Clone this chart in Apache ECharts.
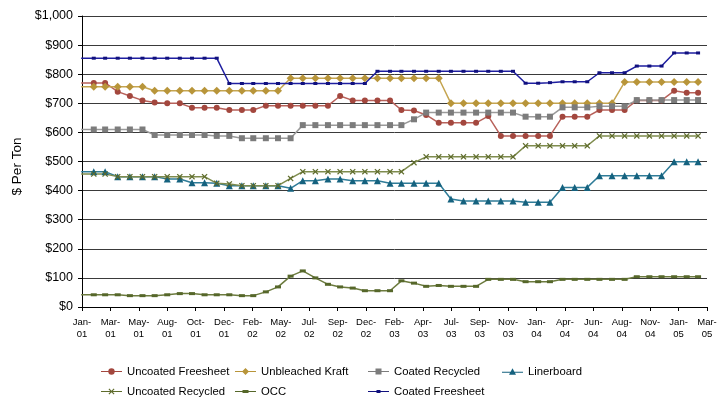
<!DOCTYPE html>
<html>
<head>
<meta charset="utf-8">
<script src="https://cdn.jsdelivr.net/npm/echarts@6/dist/echarts.min.js"></script>
<style>
  html, body { margin: 0; padding: 0; background: #fff; }
  #chart { width: 722px; height: 399px; }
</style>
</head>
<body>
<div id="chart"></div>
<script>
// Monthly price observations, Jan 2001 through Mar 2005 ($ per ton)
const months = [
  '2001-01','2001-02','2001-03','2001-04','2001-05','2001-06','2001-07','2001-08','2001-09','2001-10','2001-11','2001-12',
  '2002-01','2002-02','2002-03','2002-04','2002-05','2002-06','2002-07','2002-08','2002-09','2002-10','2002-11','2002-12',
  '2003-01','2003-02','2003-03','2003-04','2003-05','2003-06','2003-07','2003-08','2003-09','2003-10','2003-11','2003-12',
  '2004-01','2004-02','2004-03','2004-04','2004-05','2004-06','2004-07','2004-08','2004-09','2004-10','2004-11','2004-12',
  '2005-01','2005-02','2005-03'
];

const uncoatedFreesheet = [
  770,770,770,740,725,710,703,700,700,685,685,685,
  677,677,677,692,692,692,692,692,692,725,710,710,
  710,710,677,675,660,633,633,633,633,656,588,588,
  588,588,588,654,654,654,677,677,677,710,710,710,
  743,736,736
];
const unbleachedKraft = [
  757,757,757,757,757,757,743,743,743,743,743,743,
  743,743,743,743,743,786,786,786,786,786,786,786,
  786,786,786,786,786,786,700,700,700,700,700,700,
  700,700,700,700,700,700,700,700,773,773,773,773,
  773,773,773
];
const coatedRecycled = [
  610,610,610,610,610,610,591,591,591,591,591,588,
  588,580,580,580,580,580,625,625,625,625,625,625,
  625,625,625,645,668,668,668,668,668,668,668,668,
  654,654,654,686,686,686,690,690,690,711,711,711,
  711,711,711
];
const linerboard = [
  465,465,465,448,448,448,448,440,440,427,427,425,
  417,417,417,417,417,408,434,434,440,440,434,434,
  434,425,425,425,425,425,371,364,364,364,364,364,
  360,360,360,411,411,411,451,451,451,451,451,451,
  499,499,499
];
const uncoatedRecycled = [
  457,457,457,448,448,448,448,448,448,448,448,425,
  423,417,417,417,417,442,465,465,465,465,465,465,
  465,465,465,496,516,516,516,516,516,516,516,516,
  554,554,554,554,554,554,588,588,588,588,588,588,
  588,588,588
];
const occ = [
  42,42,42,42,39,39,39,42,46,46,42,42,
  42,39,39,52,69,106,124,100,78,69,65,56,
  56,56,90,82,71,74,71,71,71,95,95,95,
  87,87,87,95,95,95,95,95,95,104,104,104,
  104,104,104
];
const coatedFreesheet = [
  855,855,855,855,855,855,855,855,855,855,855,855,
  768,768,768,768,768,768,768,768,768,768,768,768,
  810,810,810,810,810,810,810,810,810,810,810,810,
  769,769,771,774,774,774,805,805,805,828,828,828,
  873,873,873
];

// Date axis: ticks every 70 days starting from 3 Jan 2001
const axisStart = Date.UTC(2001, 0, 3);
const tickStep = 70;
const xTickLabels = [
  'Jan-01','Mar-01','May-01','Aug-01','Oct-01','Dec-01','Feb-02','May-02','Jul-02','Sep-02','Dec-02','Feb-03',
  'Apr-03','Jul-03','Sep-03','Nov-03','Jan-04','Apr-04','Jun-04','Aug-04','Nov-04','Jan-05','Mar-05'
];
const yTickLabels = ['$0','$100','$200','$300','$400','$500','$600','$700','$800','$900','$1,000'];

function dayOffset(ym) {
  const [y, m] = ym.split('-').map(Number);
  return Math.round((Date.UTC(y, m - 1, 1) - axisStart) / 86400000);
}
const xDays = months.map(dayOffset);
const pairs = vals => vals.map((v, i) => [xDays[i], v]);

const FONT = '"Liberation Sans", Arial, sans-serif';
const xMark = 'path://M0,1.4L1.4,0L5,3.6L8.6,0L10,1.4L6.4,5L10,8.6L8.6,10L5,6.4L1.4,10L0,8.6L3.6,5Z';

// Legend icons: a short line with the series marker in the middle (21 px wide)
const icons = {
  circle:   { h: 6.4, path: 'path://M0,2.7H21V3.7H0Z M7.3,3.2A3.2,3.2,0,1,1,13.7,3.2A3.2,3.2,0,1,1,7.3,3.2Z' },
  diamond:  { h: 7,   path: 'path://M0,3H21V4H0Z M10.5,0L14,3.5L10.5,7L7,3.5Z' },
  square:   { h: 6,   path: 'path://M0,2.5H21V3.5H0Z M7.5,0H13.5V6H7.5Z' },
  triangle: { h: 6.5, path: 'path://M0,3.6H21V4.6H0Z M10.5,0L14,6.5H7Z' },
  cross:    { h: 6,   path: 'path://M0,2.5H21V3.5H0Z M7.5,0.8L8.3,0L10.5,2.2L12.7,0L13.5,0.8L11.3,3L13.5,5.2L12.7,6L10.5,3.8L8.3,6L7.5,5.2L9.7,3Z' },
  dash:     { h: 3,   path: 'path://M0,1H21V2H0Z M7.5,0H13.5V3H7.5Z' },
  dot:      { h: 3,   path: 'path://M0,1H21V2H0Z M8.5,0H12.5V3H8.5Z' }
};

const seriesDefs = [
  { name: 'Uncoated Freesheet', data: uncoatedFreesheet, color: '#A3473E', line: '#B8625B', symbol: 'circle', size: 6, icon: 'circle' },
  { name: 'Unbleached Kraft',   data: unbleachedKraft,   color: '#B8953A', line: '#C5A551', symbol: 'diamond', size: 8, icon: 'diamond' },
  { name: 'Coated Recycled',    data: coatedRecycled,    color: '#7C7C7C', line: '#9A9A9A', symbol: 'rect', size: 6, icon: 'square' },
  { name: 'Linerboard',         data: linerboard,        color: '#15627F', line: '#2F7C98', symbol: 'triangle', size: 7, icon: 'triangle' },
  { name: 'Uncoated Recycled',  data: uncoatedRecycled,  color: '#5F6C2C', line: '#7F8C4E', symbol: xMark, size: 6, icon: 'cross' },
  { name: 'OCC',                data: occ,               color: '#56672A', line: '#6C7B3E', symbol: 'rect', size: [6, 3], icon: 'dash' },
  { name: 'Coated Freesheet',   data: coatedFreesheet,   color: '#10107E', line: '#1E1EA0', symbol: 'rect', size: [4, 3], icon: 'dot' }
];

// Legend laid out as a 4-column, 2-row block
const legendCols = [101, 235, 368, 502];
const legendRows = [366, 386];
const legends = seriesDefs.map((s, i) => ({
  data: [{ name: s.name, icon: icons[s.icon].path }],
  left: legendCols[i < 4 ? i : i - 4],
  top: legendRows[i < 4 ? 0 : 1],
  itemWidth: 21,
  itemHeight: icons[s.icon].h,
  itemGap: 0,
  padding: 0,
  selectedMode: false,
  symbolKeepAspect: true,
  itemStyle: { borderWidth: 0 },
  textStyle: { fontFamily: FONT, fontSize: 11.3, color: '#000' }
}));

const chart = echarts.init(document.getElementById('chart'), null, { renderer: 'canvas' });
chart.setOption({
  animation: false,
  backgroundColor: '#fff',
  grid: { left: 82, right: 15, top: 16, bottom: 92, containLabel: false },
  legend: legends,
  xAxis: {
    type: 'value',
    min: 0,
    max: tickStep * (xTickLabels.length - 1),
    interval: tickStep,
    axisLine: { show: true, lineStyle: { color: '#000', width: 1 } },
    axisTick: { show: true, length: 4, lineStyle: { color: '#000' } },
    splitLine: { show: false },
    axisLabel: {
      showMinLabel: true,
      showMaxLabel: true,
      margin: 9,
      fontFamily: FONT,
      fontSize: 9.5,
      lineHeight: 12,
      color: '#000',
      formatter: v => {
        const t = xTickLabels[Math.round(v / tickStep)] || '';
        return t.replace('-', '-\n');
      }
    }
  },
  yAxis: {
    type: 'value',
    min: 0,
    max: 1000,
    interval: 100,
    name: '$ Per Ton',
    nameLocation: 'middle',
    nameRotate: 90,
    nameGap: 58,
    nameTextStyle: { fontFamily: FONT, fontSize: 13.5, color: '#000', padding: [0, 10, 0, 0] },
    axisLine: { show: true, lineStyle: { color: '#000', width: 1 } },
    axisTick: { show: true, length: 4, lineStyle: { color: '#000' } },
    splitLine: { show: true, lineStyle: { color: '#3a3a3a', width: 1 } },
    axisLabel: {
      margin: 9,
      fontFamily: FONT,
      fontSize: 12.5,
      color: '#000',
      formatter: v => yTickLabels[Math.round(v / 100)]
    }
  },
  series: seriesDefs.map(s => ({
    name: s.name,
    type: 'line',
    data: pairs(s.data),
    clip: true,
    symbol: s.symbol,
    symbolSize: s.size,
    showSymbol: true,
    itemStyle: { color: s.color },
    lineStyle: { color: s.line, width: 1.5 }
  }))
});
</script>
</body>
</html>
